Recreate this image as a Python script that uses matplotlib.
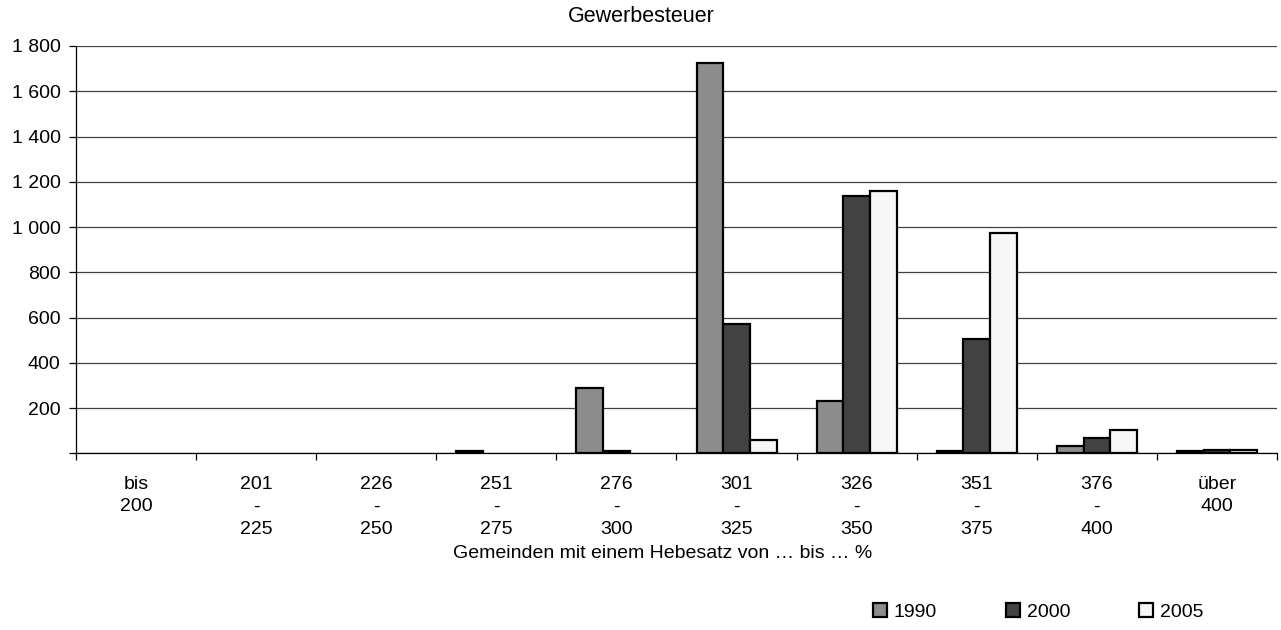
import matplotlib
matplotlib.use("Agg")
import matplotlib.pyplot as plt
import numpy as np
from matplotlib.ticker import FuncFormatter, MultipleLocator

plt.rcParams['font.family'] = ['Liberation Sans', 'DejaVu Sans']

categories = ["bis\n200\n ", "201\n-\n225", "226\n-\n250", "251\n-\n275", "276\n-\n300",
              "301\n-\n325", "326\n-\n350", "351\n-\n375", "376\n-\n400", "über\n400\n "]
series_names = ["1990", "2000", "2005"]
v1990 = [0, 0, 0, 8, 290, 1725, 231, 12, 32, 8]
v2000 = [0, 0, 0, 0, 12, 572, 1135, 504, 69, 13]
v2005 = [0, 0, 0, 0, 0, 57, 1160, 973, 103, 13]
colors = ["#8c8c8c", "#424242", "#f6f6f6"]

FS = 14

fig = plt.figure(figsize=(12.81, 6.30), dpi=100)
ax = fig.add_axes([0.0593, 0.2805, 0.9376, 0.6465])

x = np.arange(len(categories))
w = 0.222
for i, (vals, c, n) in enumerate(zip([v1990, v2000, v2005], colors, series_names)):
    lws = [1.6 if v > 0 else 0 for v in vals]
    ax.bar(x + (i - 1) * w, vals, width=w, color=c, edgecolor="black", linewidth=lws,
           label=n, zorder=3)

ax.set_xlim(-0.5, len(categories) - 0.5)
ax.set_ylim(0, 1800)
ax.yaxis.set_major_locator(MultipleLocator(200))
ax.yaxis.set_major_formatter(FuncFormatter(
    lambda v, p: "" if v == 0 else f"{int(v):,}".replace(",", " ")))
ax.grid(axis="y", color="#404040", linewidth=0.9, zorder=0)

ax.set_xticks(x)
ax.set_xticklabels(categories, fontsize=FS, linespacing=1.46)
ax.tick_params(axis="x", which="major", length=0, pad=16)
ax.set_xticks(np.arange(-0.5, len(categories), 1), minor=True)
ax.tick_params(axis="x", which="minor", length=5, width=0.9, direction="out")
ax.tick_params(axis="y", length=5, width=0.9, labelsize=FS, pad=6)

for s in ["top", "right"]:
    ax.spines[s].set_visible(False)
ax.spines["left"].set_linewidth(0.9)
ax.spines["bottom"].set_linewidth(0.9)

fig.text(641.5 / 1281, 1 - 16 / 630, "Gewerbesteuer", ha="center", va="center", fontsize=15.5)
fig.text(663 / 1281, 1 - 553 / 630, "Gemeinden mit einem Hebesatz von … bis … %",
         ha="center", va="center", fontsize=FS)

leg = fig.legend(loc="center", bbox_to_anchor=(1038 / 1281, 1 - 612 / 630), ncol=3,
                 frameon=False, fontsize=FS, handlelength=0.72, handleheight=0.72,
                 handletextpad=0.35, columnspacing=3.55, borderpad=0, borderaxespad=0)
for h in leg.legend_handles:
    h.set_linewidth(1.6)

fig.savefig("out.png", dpi=100)
